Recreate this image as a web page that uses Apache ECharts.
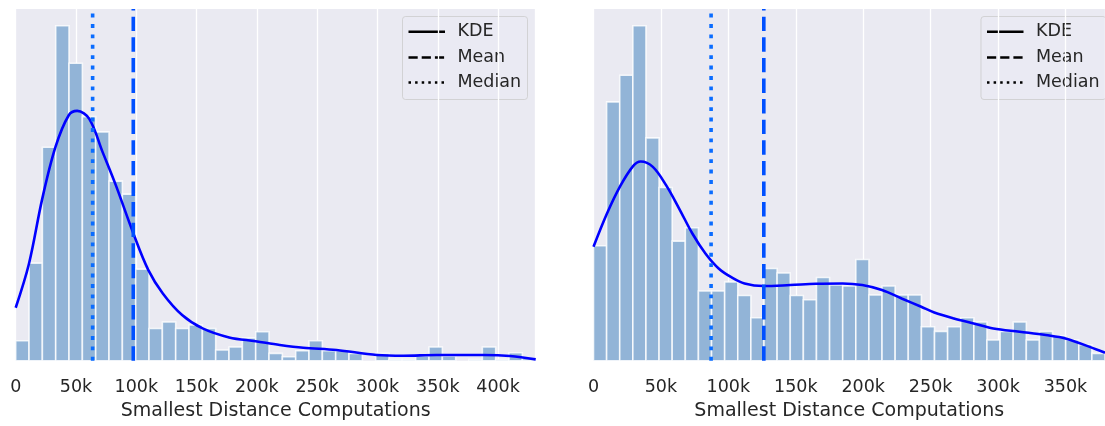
<!DOCTYPE html>
<html><head><meta charset="utf-8">
<script src="https://cdn.jsdelivr.net/npm/echarts@6/dist/echarts.min.js"></script>
<style>html,body{margin:0;padding:0;background:#fff}#c{width:1105px;height:426px}</style>
</head><body><div id="c"></div>
<script>
// ---------- data (bar heights in relative units) ----------
const leftBinHeights = [20, 97.7, 213.7, 335.3, 297.7, 244.3, 229, 179.7, 166.7, 91.7,
  32.3, 38.7, 32.3, 35.7, 32.3, 10.7, 13.7, 22.7, 29, 7.3,
  4, 10, 20, 10, 10, 7.3, 0, 7.3, 1.3, 1.3,
  4.7, 13.7, 4.7, 0, 1.3, 13.7, 1.3, 8, 2.3];
const rightBinHeights = [115, 259, 285.7, 335.3, 223, 173.3, 119.7, 133, 69.7, 69.7,
  78.7, 65.3, 43, 92.3, 87.7, 65.3, 61, 83.3, 75.7, 74.7,
  101.3, 65.7, 74.7, 65.7, 65.7, 34, 29.3, 34, 43, 38.7,
  20.7, 29.3, 38.7, 20.7, 29.3, 25, 20.7, 16, 7.3];
const leftBinWidth = 11056;   // 39 bins spanning 0 .. 431.2k
const rightBinWidth = 9726;   // 39 bins spanning 0 .. 379.3k
const leftXMax = 431200;
const rightXMax = 379300;

const leftKdeX = [0, 11000, 22000, 33000, 44000, 51000, 61000, 72000, 83000, 97600, 110000, 122000,
  138000, 155000, 177000, 199000, 219000, 238500, 266000, 299500, 321600, 349000, 388000, 410000, 431200];
const leftKdeY = [53, 97, 162, 214, 245.7, 250, 242, 209, 175.7, 127.3, 90.7, 67.3,
  45.7, 32.3, 23.3, 19.5, 15.8, 13, 10.7, 5.7, 5, 5.7, 5.7, 4.7, 1.3];
const rightKdeX = [0, 10000, 19800, 29500, 35000, 44000, 53800, 63500, 73300, 83000, 92800, 102500,
  112000, 126000, 145800, 165000, 184700, 199300, 213900, 228500, 243000, 252700, 267300, 281900,
  296500, 316000, 335400, 350000, 373000, 379300];
const rightKdeY = [114, 147.3, 174.7, 195, 199.3, 194, 175.7, 152.3, 127.3, 107.3, 92.3, 83.3,
  77.3, 74.7, 75.7, 77, 77.3, 75.7, 70.7, 62.3, 54, 48.3, 42.3, 37.3,
  32.3, 29, 25.7, 22.3, 11.3, 8];

const leftMean = 97500, leftMedian = 63800;
const rightMean = 126300, rightMedian = 87200;
const yMax = 352;
const xTickStep = 50000;
const legendLabels = ['KDE', 'Mean', 'Median'];
const axisTitle = 'Smallest Distance Computations';

// ---------- styles ----------
const FONT = '"DejaVu Sans", "Liberation Sans", sans-serif';
const TXT = '#262626';
const BAR = '#92b4d7';
const KDE = '#0000ff';
const MEAN = '#0050ff';
const MEDIAN = '#0a6cff';

function bins(heights, w) { return heights.map((h, i) => [i * w, (i + 1) * w, h]); }
function pairs(xs, ys) { return xs.map((x, i) => [x, ys[i]]); }

function renderBin(params, api) {
  const h = api.value(2);
  if (!h) return null;
  const p0 = api.coord([api.value(0), h]);
  const p1 = api.coord([api.value(1), 0]);
  return {
    type: 'rect',
    shape: { x: p0[0], y: p0[1], width: p1[0] - p0[0], height: p1[1] - p0[1] },
    style: { fill: BAR, stroke: 'rgba(255,255,255,0.8)', lineWidth: 1.6 }
  };
}

function xAxis(idx, max) {
  return {
    type: 'value', gridIndex: idx, min: 0, max: max, interval: xTickStep,
    name: axisTitle, nameLocation: 'middle', nameGap: 40,
    nameTextStyle: { fontFamily: FONT, fontSize: 19, color: TXT },
    axisLine: { show: false }, axisTick: { show: false },
    axisLabel: {
      fontFamily: FONT, fontSize: 17.5, color: TXT, margin: 18, showMaxLabel: false,
      formatter: v => (v === 0 ? '0' : (v / 1000) + 'k')
    },
    splitLine: { show: true, lineStyle: { color: '#ffffff', width: 1.3 } }
  };
}
function yAxis(idx) {
  return { type: 'value', gridIndex: idx, min: 0, max: yMax, show: false, splitLine: { show: false } };
}

function panelSeries(idx, heights, w, kx, ky, mean, median) {
  return [
    { type: 'custom', xAxisIndex: idx, yAxisIndex: idx, renderItem: renderBin,
      encode: { x: [0, 1], y: 2 }, data: bins(heights, w), z: 2 },
    { type: 'line', xAxisIndex: idx, yAxisIndex: idx, data: pairs(kx, ky), smooth: 0.35,
      showSymbol: false, lineStyle: { color: KDE, width: 2.6 }, z: 3 },
    { type: 'line', xAxisIndex: idx, yAxisIndex: idx, data: [[mean, 0], [mean, yMax]],
      showSymbol: false, lineStyle: { color: MEAN, width: 3.6, type: [14.4, 6.2] }, z: 4 },
    { type: 'line', xAxisIndex: idx, yAxisIndex: idx, data: [[median, 0], [median, yMax]],
      showSymbol: false, lineStyle: { color: MEDIAN, width: 3.6, type: [3.9, 6.5] }, z: 4 }
  ];
}

function legendGraphic(boxLeft) {
  const top = 16.5, rows = [31.7, 57.5, 82.5];
  const dashes = [null, [9.2, 4], [2.5, 4.1]];
  const children = [{
    type: 'rect', shape: { x: boxLeft, y: top, width: 125, height: 83, r: 3 },
    style: { fill: 'rgba(234,234,242,0.8)', stroke: 'rgba(204,204,204,0.8)', lineWidth: 1 }
  }];
  legendLabels.forEach((lab, i) => {
    children.push({
      type: 'line', shape: { x1: boxLeft + 6, y1: rows[i], x2: boxLeft + 42.5, y2: rows[i] },
      style: { stroke: '#000', lineWidth: 2.5, lineDash: dashes[i] }
    });
    children.push({
      type: 'text', style: { text: lab, x: boxLeft + 55, y: rows[i], fill: TXT,
        fontFamily: FONT, fontSize: 17.5, verticalAlign: 'middle', align: 'left' }
    });
  });
  return { type: 'group', z: 100, children: children };
}

const chart = echarts.init(document.getElementById('c'), null, { renderer: 'canvas' });
chart.setOption({
  animation: false,
  backgroundColor: '#ffffff',
  grid: [
    { left: 15.7, top: 9, width: 520, height: 351.7, show: true, backgroundColor: '#eaeaf2', borderWidth: 0 },
    { left: 593.5, top: 9, width: 520, height: 351.7, show: true, backgroundColor: '#eaeaf2', borderWidth: 0 }
  ],
  xAxis: [xAxis(0, leftXMax), xAxis(1, rightXMax)],
  yAxis: [yAxis(0), yAxis(1)],
  series: [].concat(
    panelSeries(0, leftBinHeights, leftBinWidth, leftKdeX, leftKdeY, leftMean, leftMedian),
    panelSeries(1, rightBinHeights, rightBinWidth, rightKdeX, rightKdeY, rightMean, rightMedian)
  ),
  graphic: [legendGraphic(402.5), legendGraphic(981)]
});
</script>
</body></html>
